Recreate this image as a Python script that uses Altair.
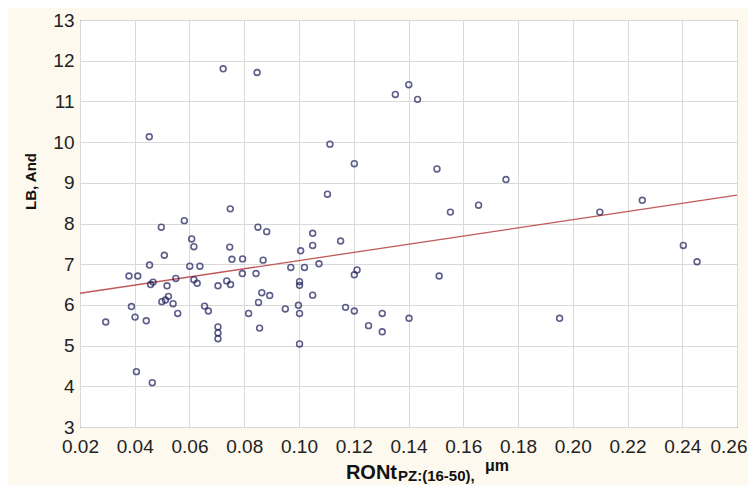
import altair as alt
import pandas as pd

x_vals = [0.0723, 0.0847, 0.0453, 0.0749, 0.0497, 0.0581, 0.0850, 0.0882, 0.0608,
          0.0616, 0.0508, 0.0454, 0.0379, 0.0411, 0.0458, 0.0467, 0.0518, 0.0550, 0.0601,
          0.0638, 0.0616, 0.0628, 0.0747, 0.0755, 0.0794, 0.0793, 0.0843, 0.0869, 0.0704,
          0.0736, 0.0750, 0.0388, 0.0401, 0.0294, 0.0442, 0.0499, 0.0512, 0.0523, 0.0540,
          0.0557, 0.0655, 0.0669, 0.0704, 0.0704, 0.0704, 0.0816, 0.0852, 0.0864, 0.0893,
          0.0856, 0.0950, 0.0406, 0.0464,
          0.1352, 0.1401, 0.1433, 0.1113, 0.1202, 0.1104, 0.1504, 0.1756, 0.1553, 0.1656,
          0.1050, 0.1152,
          0.1050, 0.1006, 0.0970, 0.1020, 0.1073, 0.1202, 0.1212, 0.1512, 0.1002, 0.1002,
          0.1050, 0.0998, 0.1002, 0.1170, 0.1202, 0.1304, 0.1254, 0.1304, 0.1402, 0.1002,
          0.2099, 0.2254, 0.2404, 0.2454, 0.1952]
y_vals = [11.80, 11.71, 10.13, 8.36, 7.91, 8.07, 7.91, 7.80, 7.62,
          7.43, 7.22, 6.98, 6.71, 6.71, 6.50, 6.56, 6.47, 6.65, 6.95,
          6.95, 6.62, 6.53, 7.42, 7.12, 7.13, 6.77, 6.77, 7.10, 6.47,
          6.59, 6.50, 5.96, 5.70, 5.58, 5.61, 6.08, 6.12, 6.21, 6.03,
          5.79, 5.97, 5.85, 5.46, 5.31, 5.17, 5.79, 6.06, 6.30, 6.23,
          5.43, 5.90, 4.36, 4.09,
          11.17, 11.41, 11.05, 9.95, 9.47, 8.72, 9.34, 9.08, 8.28, 8.45,
          7.76, 7.57,
          7.46, 7.33, 6.92, 6.92, 7.01, 6.74, 6.86, 6.71, 6.57, 6.48,
          6.24, 5.99, 5.79, 5.94, 5.85, 5.79, 5.49, 5.34, 5.67, 5.04,
          8.28, 8.57, 7.46, 7.06, 5.67]

x_ticks = [0.02, 0.04, 0.06, 0.08, 0.10, 0.12, 0.14, 0.16, 0.18, 0.20, 0.22, 0.24, 0.26]
y_ticks = [3, 4, 5, 6, 7, 8, 9, 10, 11, 12, 13]

df = pd.DataFrame({"x": x_vals, "y": y_vals})

W, H = 657, 407
FONT = "Liberation Sans"

xscale = alt.Scale(domain=[0.02, 0.26], nice=False, zero=False)
yscale = alt.Scale(domain=[3, 13], nice=False, zero=False)

last_test = "datum.value >= 0.255"
xaxis = alt.Axis(values=x_ticks, format=".2f", title=None, labelFont=FONT, labelFontSize=19,
                 labelColor="#222", tickSize=0, labelPadding=10, gridColor="#d9d9d9",
                 domain=False, labelFlush=False,
                 labelAlign={"condition": {"test": last_test, "value": "right"}, "value": "center"},
                 labelOffset={"condition": {"test": last_test, "value": 10}, "value": 0})
yaxis = alt.Axis(values=y_ticks, format="d", title="LB, And", titleFont=FONT, titleFontSize=15,
                 titleFontWeight="bold", titleColor="#111", titleX=-50, titleY=161,
                 titleAngle=-90, titleAlign="center", titleBaseline="middle",
                 labelFont=FONT, labelFontSize=19, labelColor="#222", tickSize=0,
                 labelPadding=6, gridColor="#d9d9d9", domain=False)

base = alt.Chart(df)

pts = base.mark_point(shape="circle", filled=False, size=34, strokeWidth=1.6,
                      color="#1c1c5c", clip=True).encode(
    x=alt.X("x:Q", scale=xscale, axis=xaxis),
    y=alt.Y("y:Q", scale=yscale, axis=yaxis),
)

reg = base.transform_regression("x", "y", extent=[0.02, 0.26]).mark_line(
    color="#c0585a", strokeWidth=1.3, clip=True).encode(
    x=alt.X("x:Q", scale=xscale, axis=xaxis),
    y=alt.Y("y:Q", scale=yscale, axis=yaxis),
)

t1 = alt.Chart(pd.DataFrame({"t": ["RONt"]})).mark_text(
    font=FONT, fontSize=20, fontWeight="bold", align="right",
    baseline="alphabetic", color="#111").encode(
    text="t:N", x=alt.value(317), y=alt.value(459))
t2 = alt.Chart(pd.DataFrame({"t": ["PZ:(16-50),"]})).mark_text(
    font=FONT, fontSize=15, fontWeight="bold", align="left", baseline="alphabetic",
    color="#111").encode(text="t:N", x=alt.value(318), y=alt.value(461))
t3 = alt.Chart(pd.DataFrame({"t": ["μm"]})).mark_text(
    font=FONT, fontSize=16, fontWeight="bold", align="left", baseline="alphabetic",
    color="#111").encode(text="t:N", x=alt.value(405), y=alt.value(451))

chart = alt.layer(reg, pts, t1, t2, t3).properties(
    width=W, height=H,
    autosize=alt.AutoSizeParams(type="none"),
    padding={"left": 72, "top": 12, "right": 11, "bottom": 58},
    background="#fdf9ee",
).configure_view(stroke="#000", strokeWidth=1, fill="white")

chart.save("out.html", embed_options={"renderer": "svg", "actions": False})
